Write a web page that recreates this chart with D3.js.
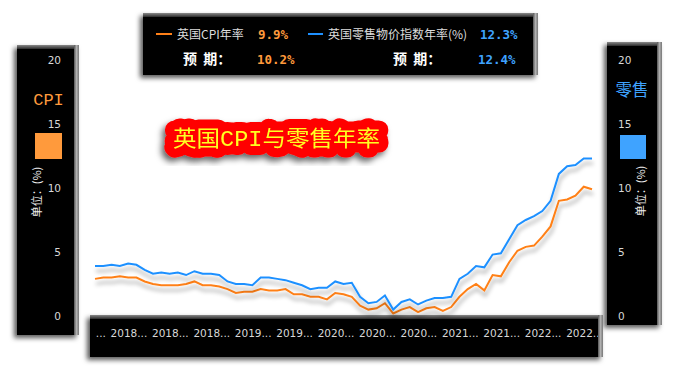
<!DOCTYPE html>
<html><head><meta charset="utf-8">
<script src="https://cdn.jsdelivr.net/npm/d3@7"></script>
<style>body{margin:0;background:#fff;} svg{display:block}</style>
</head><body><svg id="c" width="677" height="374"></svg>
<script>
// ---- data ----
const months = [
 "2017-08","2017-09","2017-10","2017-11","2017-12",
 "2018-01","2018-02","2018-03","2018-04","2018-05","2018-06","2018-07","2018-08","2018-09","2018-10","2018-11","2018-12",
 "2019-01","2019-02","2019-03","2019-04","2019-05","2019-06","2019-07","2019-08","2019-09","2019-10","2019-11","2019-12",
 "2020-01","2020-02","2020-03","2020-04","2020-05","2020-06","2020-07","2020-08","2020-09","2020-10","2020-11","2020-12",
 "2021-01","2021-02","2021-03","2021-04","2021-05","2021-06","2021-07","2021-08","2021-09","2021-10","2021-11","2021-12",
 "2022-01","2022-02","2022-03","2022-04","2022-05","2022-06","2022-07","2022-08"];
const cpi = [2.9,3.0,3.0,3.1,3.0,
 3.0,2.7,2.5,2.4,2.4,2.4,2.5,2.7,2.4,2.4,2.3,2.1,
 1.8,1.9,1.9,2.1,2.0,2.0,2.1,1.7,1.7,1.5,1.5,1.3,
 1.8,1.7,1.5,0.8,0.5,0.6,1.0,0.2,0.5,0.7,0.3,0.6,
 0.7,0.4,0.7,1.5,2.1,2.5,2.0,3.2,3.1,4.2,5.1,5.4,
 5.5,6.2,7.0,9.0,9.1,9.4,10.1,9.9];
const rpi = [3.9,3.9,4.0,3.9,4.1,
 4.0,3.6,3.3,3.4,3.3,3.4,3.2,3.5,3.3,3.3,3.2,2.7,
 2.5,2.5,2.4,3.0,3.0,2.9,2.8,2.6,2.4,2.1,2.2,2.2,
 2.7,2.5,2.6,1.5,1.0,1.1,1.6,0.5,1.1,1.3,0.9,1.2,
 1.4,1.4,1.5,2.9,3.3,3.9,3.8,4.8,4.9,6.0,7.1,7.5,
 7.8,8.2,9.0,11.1,11.7,11.8,12.3,12.3];
const yTicks = [0,5,10,15,20];
const xTickMonths = ["2017-08","2018-01","2018-06","2018-11","2019-04","2019-09","2020-02","2020-07","2020-12","2021-05","2021-10","2022-03","2022-08"];
const seriesNames = ["英国CPI年率","英国零售物价指数年率(%)"];
const latestVals = ["9.9%","12.3%"];
const forecastVals = ["10.2%","12.4%"];
const forecastLabel = "预\u00a0\u00a0期：";
const titleText = "英国CPI与零售年率";
const panelTitles = ["CPI","零售"];
const unitText = "单位：(%)";

// ---- styles ----
const ORANGE_LINE = "#ff8018", BLUE_LINE = "#1e90ff";
const ORANGE = "#ff9a3c", BLUE = "#3fa3ff";

const svg = d3.select("#c");
const defs = svg.append("defs");
const boxShadow = defs.append("filter").attr("id","boxsh").attr("x","-20%").attr("y","-20%").attr("width","140%").attr("height","140%");
boxShadow.append("feDropShadow").attr("dx",-3).attr("dy",3).attr("stdDeviation",2.5).attr("flood-color","#000").attr("flood-opacity",0.65);
const lineShadow = defs.append("filter").attr("id","lnsh").attr("x","-5%").attr("y","-20%").attr("width","110%").attr("height","140%");
lineShadow.append("feDropShadow").attr("dx",1).attr("dy",5).attr("stdDeviation",2).attr("flood-color","#000").attr("flood-opacity",0.35);
const tsh = defs.append("filter").attr("id","tsh").attr("x","-20%").attr("y","-50%").attr("width","140%").attr("height","200%");
tsh.append("feDropShadow").attr("dx",-3).attr("dy",4).attr("stdDeviation",3).attr("flood-color","#000").attr("flood-opacity",0.6);
const gTop = defs.append("linearGradient").attr("id","gtop").attr("x1",0).attr("y1",0).attr("x2",0).attr("y2",1);
gTop.append("stop").attr("offset",0).attr("stop-color","#8a8a8a");
gTop.append("stop").attr("offset",1).attr("stop-color","#2a2a2a");
const gRight = defs.append("linearGradient").attr("id","gright").attr("x1",0).attr("y1",0).attr("x2",1).attr("y2",0);
gRight.append("stop").attr("offset",0).attr("stop-color","#555");
gRight.append("stop").attr("offset",0.5).attr("stop-color","#b0b0b0");
gRight.append("stop").attr("offset",1).attr("stop-color","#777");
defs.append("clipPath").attr("id","xclip").append("rect").attr("x",96).attr("y",316).attr("width",502).attr("height",40);

function box(x0,y0,x1,y1){
  const g = svg.append("g");
  g.append("rect").attr("x",x0).attr("y",y0).attr("width",x1-x0).attr("height",y1-y0).attr("fill","#000").attr("filter","url(#boxsh)");
  g.append("rect").attr("x",x0).attr("y",y0).attr("width",x1-x0).attr("height",4).attr("fill","url(#gtop)");
  g.append("rect").attr("x",x1-5).attr("y",y0).attr("width",5).attr("height",y1-y0).attr("fill","url(#gright)");
  return g;
}

// scales
const x = d3.scalePoint().domain(months).range([95,592]);
const y = d3.scaleLinear().domain([0,20]).range([316,60]);

// ---- panels ----
box(17,45,79,335);
box(607,42,662,325);
box(90,315,603,357);
box(143,13,538,75);

const tickFont = "'DejaVu Sans', sans-serif";
const yl = svg.append("g").attr("transform","translate(64,0)")
  .call(d3.axisLeft(y).tickValues(yTicks).tickSize(0).tickPadding(3));
const yr = svg.append("g").attr("transform","translate(615,0)")
  .call(d3.axisRight(y).tickValues(yTicks).tickSize(0).tickPadding(3));
[yl,yr].forEach(a=>{a.select(".domain").remove();
  a.selectAll("text").attr("fill","#d8d8d8").style("font-family",tickFont).style("font-size","10.5px");});

// panel titles
svg.append("text").attr("x",48.5).attr("y",105).attr("text-anchor","middle")
  .style("font-family","'Liberation Mono', monospace").style("font-size","17px").attr("fill",ORANGE).text(panelTitles[0]);
svg.append("text").attr("x",632).attr("y",96).attr("text-anchor","middle")
  .style("font-family","'Noto Sans CJK SC', sans-serif").style("font-size","16.5px").attr("fill",BLUE).text(panelTitles[1]);
svg.append("rect").attr("x",35).attr("y",133).attr("width",27).attr("height",26).attr("fill",ORANGE);
svg.append("rect").attr("x",620).attr("y",135).attr("width",26).attr("height",24).attr("fill",BLUE);
[[37,192],[641,191]].forEach(([cx,cy])=>{
  svg.append("text").attr("transform",`translate(${cx+4},${cy}) rotate(-90)`).attr("text-anchor","middle")
    .style("font-family","'Noto Sans CJK SC', sans-serif").style("font-size","11px").attr("fill","#eee").text(unitText);
});

// ---- x axis labels ----
const xa = svg.append("g").attr("clip-path","url(#xclip)").append("g").attr("transform","translate(-8,326.5)")
  .call(d3.axisBottom(x).tickValues(xTickMonths).tickFormat(d=>d.slice(0,4)+"...").tickSize(0).tickPadding(3));
xa.select(".domain").remove();
xa.selectAll("text").attr("fill","#d8d8d8").style("font-family",tickFont).style("font-size","10.5px");

// ---- lines ----
const line = d3.line().x((d,i)=>x(months[i])).y(d=>y(d));
svg.append("path").datum(cpi).attr("d",line).attr("fill","none").attr("stroke",ORANGE_LINE).attr("stroke-width",2).attr("filter","url(#lnsh)");
svg.append("path").datum(rpi).attr("d",line).attr("fill","none").attr("stroke",BLUE_LINE).attr("stroke-width",2).attr("filter","url(#lnsh)");

// ---- title (single text: red outline + yellow fill + shadow) ----
svg.append("text").attr("x",276.5).attr("y",146).attr("text-anchor","middle")
  .attr("textLength",207).attr("lengthAdjust","spacingAndGlyphs")
  .style("font-family","'Liberation Mono','Noto Sans CJK SC', monospace").style("font-size","22px")
  .attr("fill","#ffff20").attr("stroke","#f00").attr("stroke-width",18).attr("stroke-linejoin","round")
  .attr("paint-order","stroke").attr("filter","url(#tsh)").text(titleText);

// ---- legend ----
const lf = "'Noto Sans CJK SC', sans-serif";
const mf = "'DejaVu Sans Mono', monospace";
svg.append("line").attr("x1",156).attr("x2",172).attr("y1",34).attr("y2",34).attr("stroke",ORANGE_LINE).attr("stroke-width",2);
svg.append("line").attr("x1",308).attr("x2",323).attr("y1",34).attr("y2",34).attr("stroke",BLUE_LINE).attr("stroke-width",2);
svg.append("text").attr("x",177).attr("y",38.5).style("font-family",lf).style("font-size","12px").attr("fill","#ddd").text(seriesNames[0]);
svg.append("text").attr("x",328).attr("y",38.5).style("font-family",lf).style("font-size","12px").attr("fill","#ddd").text(seriesNames[1]);
svg.append("text").attr("x",258).attr("y",38.5).style("font-family",mf).style("font-weight","bold").style("font-size","12.5px").attr("fill",ORANGE).text(latestVals[0]);
svg.append("text").attr("x",480).attr("y",38.5).style("font-family",mf).style("font-weight","bold").style("font-size","12.5px").attr("fill",BLUE).text(latestVals[1]);
[183,393].forEach(xx=>svg.append("text").attr("x",xx).attr("y",64).style("font-family",lf).style("font-weight","bold").style("font-size","14px").attr("fill","#fff").text(forecastLabel));
svg.append("text").attr("x",257).attr("y",63.5).style("font-family",mf).style("font-weight","bold").style("font-size","12.5px").attr("fill",ORANGE).text(forecastVals[0]);
svg.append("text").attr("x",478).attr("y",63.5).style("font-family",mf).style("font-weight","bold").style("font-size","12.5px").attr("fill",BLUE).text(forecastVals[1]);
</script></body></html>
